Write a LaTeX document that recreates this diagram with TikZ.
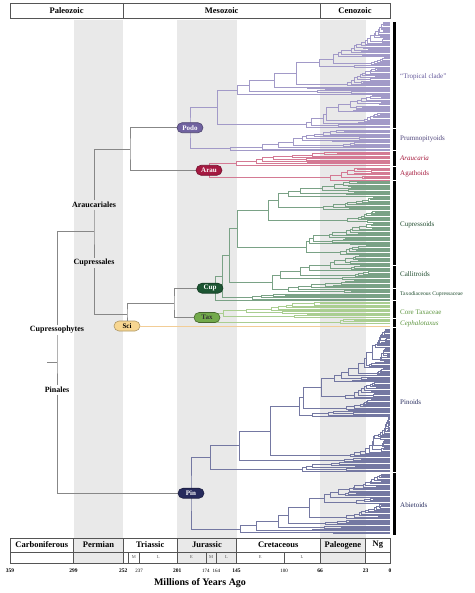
\documentclass[tikz,border=0pt]{standalone}
\usepackage{fontspec}
\setmainfont{Liberation Serif}
\usetikzlibrary{positioning}

\definecolor{band}{RGB}{233,233,233}
\definecolor{rule}{RGB}{85,85,85}
\definecolor{backbone}{RGB}{135,135,135}
\definecolor{podoline}{RGB}{162,154,200}
\definecolor{podofill}{RGB}{112,98,160}
\definecolor{podotext}{RGB}{100,88,155}
\definecolor{arauline}{RGB}{212,122,148}
\definecolor{araufill}{RGB}{165,25,65}
\definecolor{arautext}{RGB}{165,25,60}
\definecolor{cupline}{RGB}{122,162,134}
\definecolor{cupfill}{RGB}{28,85,50}
\definecolor{cuptext}{RGB}{30,75,45}
\definecolor{taxline}{RGB}{170,206,145}
\definecolor{taxfill}{RGB}{115,170,75}
\definecolor{taxtext}{RGB}{95,150,65}
\definecolor{sciline}{RGB}{242,205,150}
\definecolor{scifill}{RGB}{247,214,145}
\definecolor{pinline}{RGB}{116,120,162}
\definecolor{pinfill}{RGB}{38,42,92}
\definecolor{pintext}{RGB}{40,45,95}

\newcommand\randclade[4]{%
  \begingroup
  \edef\tX{#1}\edef\tT{#2}\edef\tB{#3}\edef\tN{#4}%
  \ifnum\tN<2\relax
    \xdef\retY{\tT}%
  \else
    \pgfmathsetmacro\nB{int(1+floor((\tN/2-0.5)*rnd*rnd))}%
    \pgfmathsetmacro\nA{int(\tN-\nB)}%
    \pgfmathsetmacro\tD{(\tB-\tT)/(\tN-1)}%
    \pgfmathsetmacro\yAb{\tT+(\nA-1)*\tD}%
    \pgfmathsetmacro\yBt{\yAb+\tD}%
    \ifnum\nA>1\relax\pgfmathsetmacro\xA{\tX+(390-\tX)*(0.04+0.22*rnd)}\else\def\xA{390}\fi
    \ifnum\nB>1\relax\pgfmathsetmacro\xB{\tX+(390-\tX)*(0.1+0.6*rnd)}\else\def\xB{390}\fi
    \randclade{\xA}{\tT}{\yAb}{\nA}\let\yA\retY
    \randclade{\xB}{\yBt}{\tB}{\nB}\let\yB\retY
    \draw[branch] (\xA,\yA) -| (\tX,\yB) -- (\xB,\yB);
    \pgfmathsetmacro\tY{(\yA+\yB)/2}\xdef\retY{\tY}%
  \fi
  \endgroup}

\begin{document}
\begin{tikzpicture}[x=1pt,y=-1pt,
  branch/.style={draw=\bcol, line width=0.42pt},
  backbone/.style={draw=backbone, line width=0.75pt},
  crown/.style={rounded corners=5pt, minimum width=26pt, minimum height=10pt, inner sep=1pt, font=\bfseries\fontsize{7}{7}\selectfont, text=white, line width=0.6pt},
  grouplab/.style={font=\bfseries\fontsize{8}{8}\selectfont, inner sep=1.5pt},
  cladelab/.style={anchor=west, font=\fontsize{7}{7}\selectfont, inner sep=0pt},
  era/.style={font=\bfseries\fontsize{8.5}{9}\selectfont},
  sub/.style={font=\fontsize{4.5}{5}\selectfont, text=rule},
  age/.style={font=\bfseries\fontsize{5.5}{6}\selectfont},
  minorage/.style={font=\fontsize{5}{6}\selectfont}]

\useasboundingbox (0,0) rectangle (474,593);
\pgfmathsetseed{11}
\def\bcol{backbone}

\fill[band] (73.5,20) rectangle (123.3,563);
\fill[band] (177.2,20) rectangle (236.5,563);
\fill[band] (320.1,20) rectangle (365.7,563);

\draw[rule, line width=0.6pt] (10,3) rectangle (390,18) (123.3,3) -- (123.3,18) (320.1,3) -- (320.1,18);
\node[era] (paleozoic) at (66.6,10.5) {Paleozoic};
\node[era] (mesozoic) at (221.7,10.5) {Mesozoic};
\node[era] (cenozoic) at (355,10.5) {Cenozoic};

\def\bcol{podoline}
\randclade{217}{22}{127}{90}\global\let\yTrop\retY
\randclade{230}{130}{150}{17}\global\let\yPrum\retY
\def\bcol{arauline}
\randclade{236}{152}{165}{11}\global\let\yAraA\retY
\randclade{330}{168}{180}{10}\global\let\yAgat\retY
\def\bcol{cupline}
\randclade{215}{181}{300}{97}\global\let\yCup\retY
\def\bcol{taxline}
\randclade{223}{302}{317}{12}\global\let\yCore\retY
\randclade{340}{319}{323}{4}\global\let\yCeph\retY
\def\bcol{pinline}
\randclade{210}{329}{471}{120}\global\let\yPinoid\retY
\randclade{240}{474}{533}{50}\global\let\yAbiet\retY

\pgfmathsetmacro\yPodo{(\yTrop+\yPrum)/2}
\pgfmathsetmacro\yArau{(\yAraA+\yAgat)/2}
\pgfmathsetmacro\yTax{(\yCore+\yCeph)/2}
\pgfmathsetmacro\yPin{(\yPinoid+\yAbiet)/2}
\pgfmathsetmacro\yAL{(\yPodo+\yArau)/2}
\pgfmathsetmacro\yCT{(\yCup+\yTax)/2}
\pgfmathsetmacro\yCS{(\yCT+326)/2}
\pgfmathsetmacro\yCP{(\yAL+\yCS)/2}
\pgfmathsetmacro\yR{(\yCP+\yPin)/2}

\coordinate (podoC) at (190,\yPodo);
\coordinate (arauC) at (209,\yArau);
\coordinate (cupC) at (215,\yCup);
\coordinate (taxC) at (215,\yTax);
\coordinate (pinC) at (191,\yPin);
\coordinate (araucariales) at (130,\yAL);
\coordinate (cuptax) at (174,\yCT);
\coordinate (cupressales) at (127,\yCS);
\coordinate (cupresso) at (94,\yCP);
\coordinate (root) at (57,\yR);
\coordinate (rootstub) at (47,\yR);
\coordinate (sciTip) at (390,326);

\draw[podoline, line width=0.5pt] (217,\yTrop) -| (podoC) |- (230,\yPrum);
\draw[arauline, line width=0.5pt] (236,\yAraA) -| (arauC) |- (330,\yAgat);
\draw[taxline, line width=0.5pt] (223,\yCore) -| (taxC) |- (340,\yCeph);
\draw[pinline, line width=0.5pt] (210,\yPinoid) -| (pinC) |- (240,\yAbiet);

\node[grouplab] (lAral) at (94,205) {Araucariales};
\node[grouplab] (lCups) at (94,263) {Cupressales};
\node[grouplab] (lCpy) at (57,330) {Cupressophytes};
\node[grouplab] (lPin) at (57,390) {Pinales};
\node[crown, draw=scifill!70!black, fill=scifill, text=black] (sci) at (127,326) {Sci};

\draw[backbone] (podoC) -| (araucariales) |- (arauC);
\draw[backbone] (araucariales) -| (lAral) -- (cupresso) -- (lCups) |- (cupressales);
\draw[backbone] (cupC) -| (cuptax) |- (taxC);
\draw[backbone] (cuptax) -| (cupressales) -- (sci);
\draw[sciline, line width=0.6pt] (sci) -- (sciTip);
\draw[backbone] (cupresso) -| (lCpy) -- (root) -- (lPin) |- (pinC);
\draw[backbone] (rootstub) -- (root);

\node[crown, draw=podofill!70!black, fill=podofill] (podo) at (podoC) {Podo};
\node[crown, draw=araufill!70!black, fill=araufill] (arau) at (arauC) {Arau};
\node[crown, draw=cupfill!70!black, fill=cupfill] (cup) at (210,\yCup) {Cup};
\node[crown, draw=taxfill!60!black, fill=taxfill, text=black!80] (tax) at (207,\yTax) {Tax};
\node[crown, draw=pinfill!70!black, fill=pinfill] (pin) at (pinC) {Pin};

\foreach \a/\b in {22/128, 129/150, 151/166, 167/180, 181/265, 266/288, 289/300, 301/318, 319/327, 328/472, 473/535}
  \fill (392.5,\a+0.4) rectangle (396,\b-0.4);

\node[cladelab, text=podotext] (tropical) at (400,77) {``Tropical clade''};
\node[cladelab, text=podotext!80!black] (prumno) at (400,139) {Prumnopityoids};
\node[cladelab, text=arautext, font=\itshape\fontsize{7}{7}\selectfont] (araucaria) at (400,158) {Araucaria};
\node[cladelab, text=arautext] (agathoids) at (400,174) {Agathoids};
\node[cladelab, text=cuptext] (cupressoids) at (400,225) {Cupressoids};
\node[cladelab, text=cuptext] (callitroids) at (400,274) {Callitroids};
\node[cladelab, text=cuptext, font=\fontsize{5.6}{6}\selectfont] (taxodiaceous) at (400,294) {Taxodiaceous Cupressaceae};
\node[cladelab, text=taxtext] (coretax) at (400,312) {Core Taxaceae};
\node[cladelab, text=taxtext, font=\itshape\fontsize{7}{7}\selectfont] (cephalotaxus) at (400,324) {Cephalotaxus};
\node[cladelab, text=pintext] (pinoids) at (400,402) {Pinoids};
\node[cladelab, text=pintext] (abietoids) at (400,505) {Abietoids};

\draw[rule, line width=0.6pt] (10,538) rectangle (390,563) (10,552) -- (390,552);
\foreach \x in {73.5,123.3,177.2,236.5,320.1,365.7}
  \draw[rule, line width=0.6pt] (\x,538) -- (\x,563);
\foreach \x in {128.55,139.14,205.8,216.4,284.15}
  \draw[rule, line width=0.4pt] (\x,552) -- (\x,563);

\node[era] (carboniferous) at (41.75,545) {Carboniferous};
\node[era] (permian) at (98.4,545) {Permian};
\node[era] (triassic) at (150.25,545) {Triassic};
\node[era] (jurassic) at (206.9,545) {Jurassic};
\node[era] (cretaceous) at (278.3,545) {Cretaceous};
\node[era] (paleogene) at (342.9,545) {Paleogene};
\node[era] (neogene) at (377.8,545) {Ng};

\node[sub] (trM) at (133.8,557.5) {M};
\node[sub] (trL) at (158.2,557.5) {L};
\node[sub] (juE) at (191.5,557.5) {E};
\node[sub] (juM) at (211.1,557.5) {M};
\node[sub] (juL) at (226.5,557.5) {L};
\node[sub] (crE) at (260.3,557.5) {E};
\node[sub] (crL) at (302.1,557.5) {L};

\foreach \t/\x in {359/10, 299/73.5, 252/123.3, 201/177.2, 145/236.5, 66/320.1, 23/365.7, 0/390}
  \node[age] (age\t) at (\x,571) {\t};
\foreach \t/\x in {237/139.14, 174/205.8, 164/216.4, 100/284.15}
  \node[minorage] (age\t) at (\x,571) {\t};

\node[font=\bfseries\fontsize{10}{11}\selectfont] (axislabel) at (200,583) {Millions of Years Ago};
\end{tikzpicture}
\end{document}
